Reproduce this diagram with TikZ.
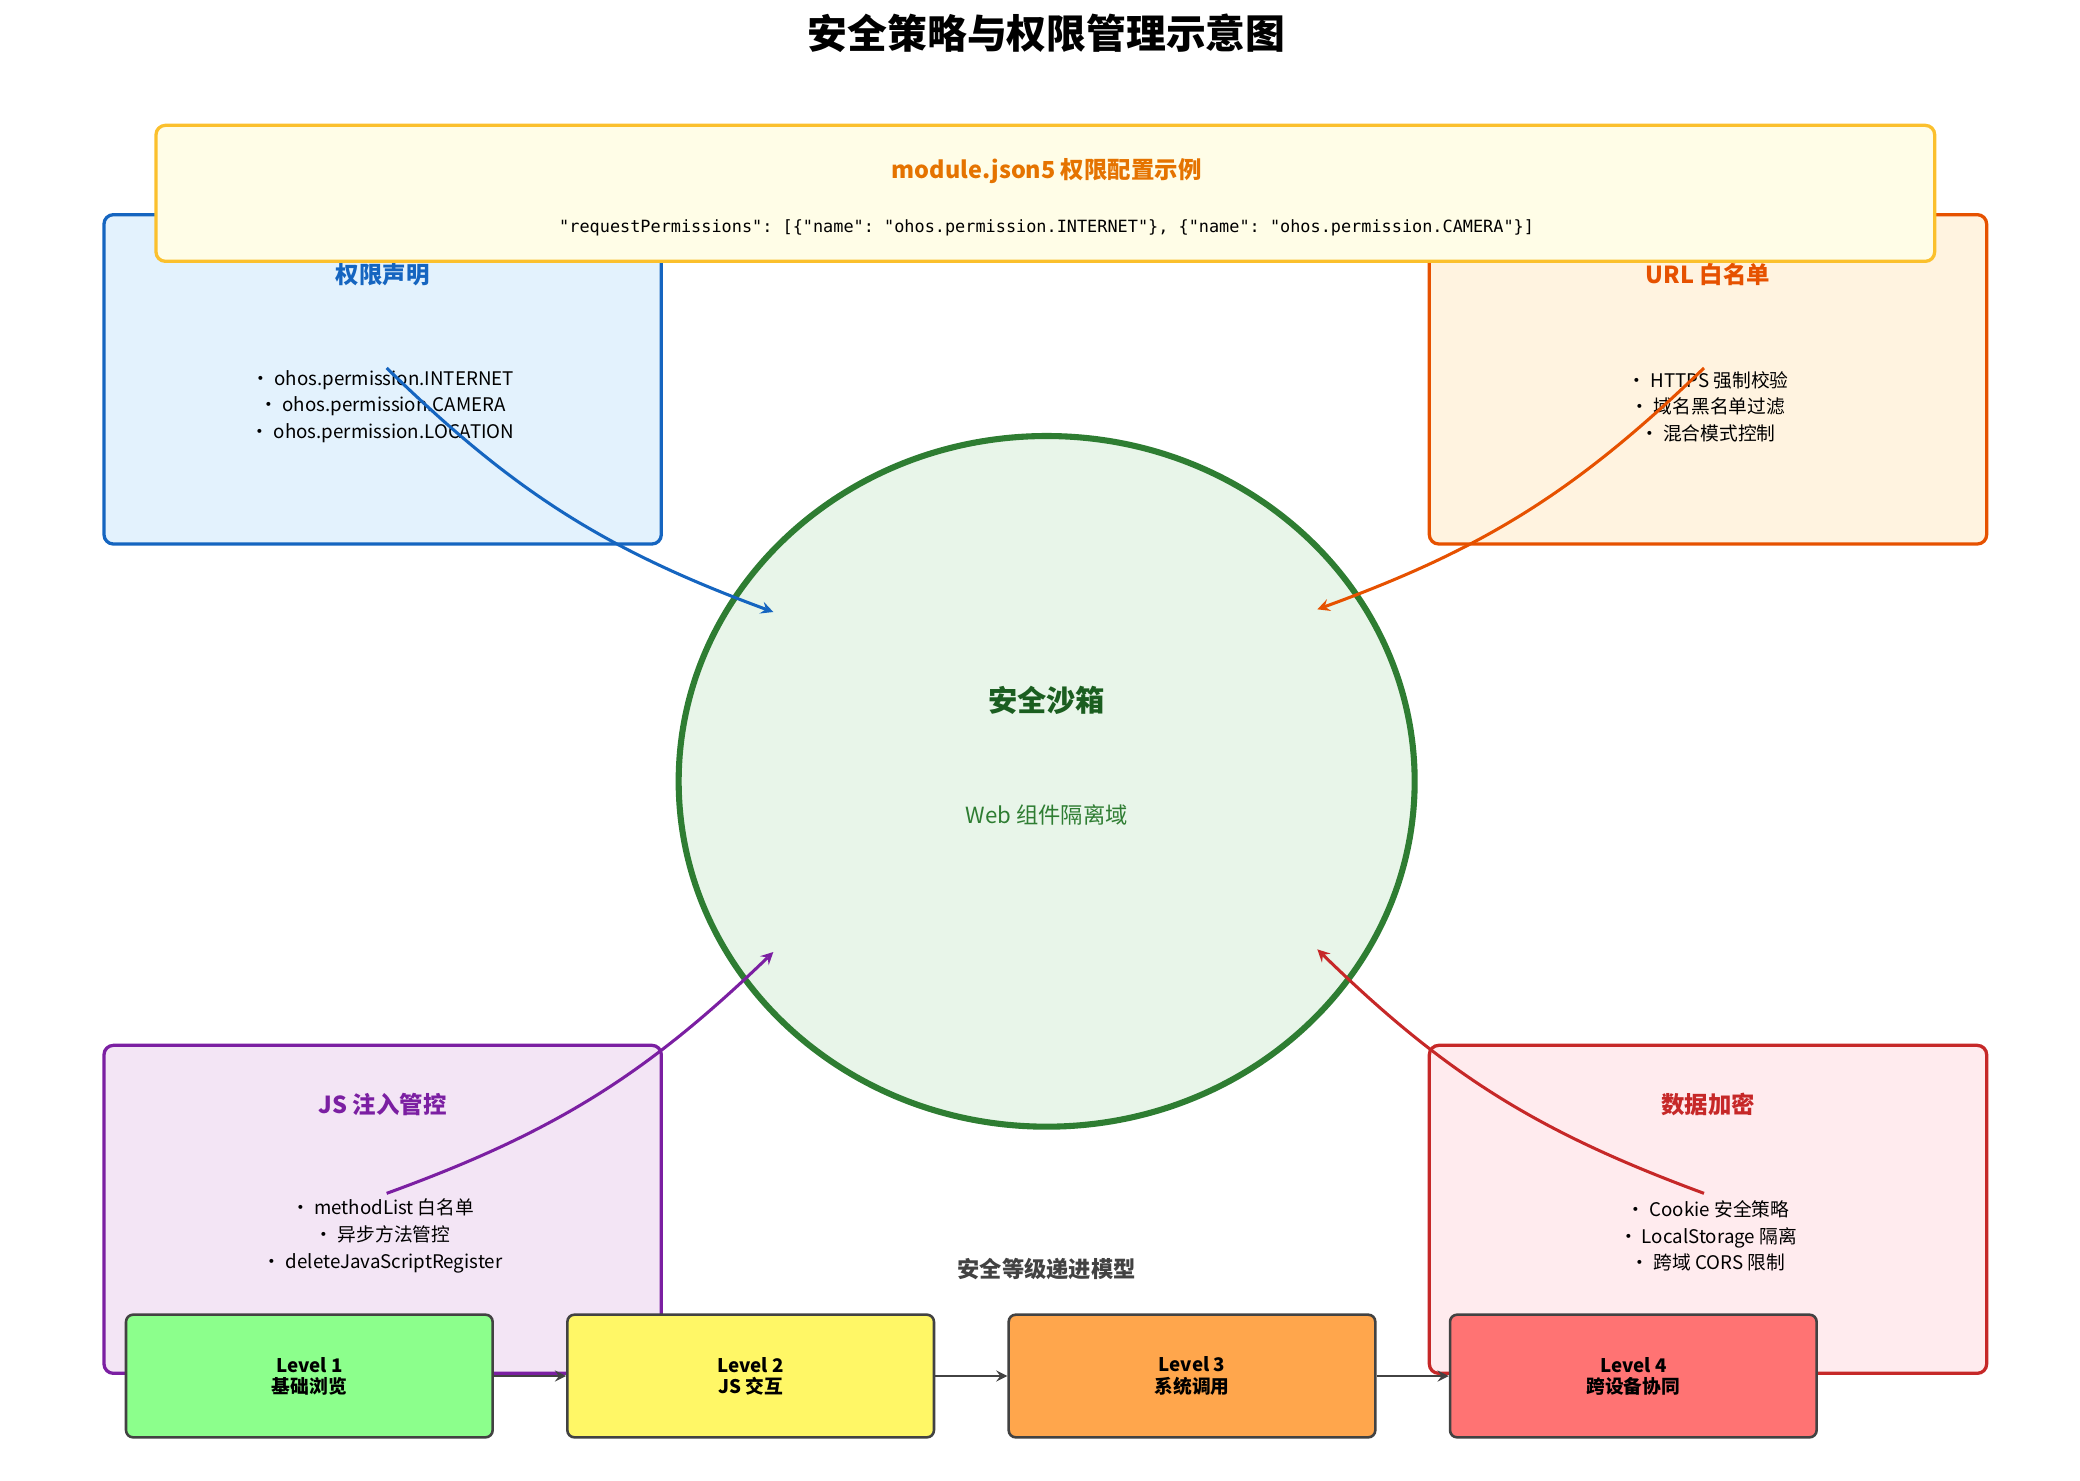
\documentclass[tikz,border=0pt]{standalone}
\usepackage{fontspec}
\setmainfont{Noto Sans CJK SC}
\setmonofont{DejaVu Sans Mono}
\usepackage{xcolor}
\usetikzlibrary{calc}
\definecolor{sb-blue}{HTML}{1565C0}
\definecolor{sb-blue-bg}{HTML}{E3F2FD}
\definecolor{sb-orange}{HTML}{E65100}
\definecolor{sb-orange-bg}{HTML}{FFF3E0}
\definecolor{sb-purple}{HTML}{7B1FA2}
\definecolor{sb-purple-bg}{HTML}{F3E5F5}
\definecolor{sb-red}{HTML}{C62828}
\definecolor{sb-red-bg}{HTML}{FFEBEE}
\definecolor{sb-green}{HTML}{2E7D32}
\definecolor{sb-green-dk}{HTML}{1B5E20}
\definecolor{sb-green-bg}{HTML}{E8F5E9}
\definecolor{sb-yellow}{HTML}{FBC02D}
\definecolor{sb-yellow-bg}{HTML}{FFFDE7}
\definecolor{sb-gray}{HTML}{424242}
\tikzset{
  card/.style={draw=#1, line width=1.4pt, rounded corners=4pt},
  cardtitle/.style={font=\fontsize{10}{12}\selectfont\bfseries, text=#1},
  items/.style={font=\fontsize{8}{11.4}\selectfont, align=center},
  flow/.style={line width=1.3pt, -stealth, #1},
  level/.style={draw=sb-gray, line width=1.1pt, rounded corners=3pt, minimum width=5.5cm, minimum height=1.84cm, font=\fontsize{8}{9}\selectfont\bfseries, align=center}
}

\begin{document}
\begin{tikzpicture}[x=0.02cm, y=-0.02cm]
  \useasboundingbox (0, 0) rectangle (1560, 1110);

  \node[font=\fontsize{17}{20}\selectfont\bfseries] (title) at (785, 25) {安全策略与权限管理示意图};

  % four cards
  \draw[card=sb-blue, fill=sb-blue-bg] (78, 161) rectangle (496, 408);
  \draw[card=sb-orange, fill=sb-orange-bg] (1072, 161) rectangle (1490, 408);
  \draw[card=sb-purple, fill=sb-purple-bg] (78, 784) rectangle (496, 1030);
  \draw[card=sb-red, fill=sb-red-bg] (1072, 784) rectangle (1490, 1030);

  \node[cardtitle=sb-blue] (perm-t) at (287, 206) {权限声明};
  \node[items] (perm-i) at (287, 305) {• ohos.permission.INTERNET\\• ohos.permission.CAMERA\\• ohos.permission.LOCATION};
  \node[cardtitle=sb-orange] (url-t) at (1281, 206) {URL 白名单};
  \node[items] (url-i) at (1281, 305) {• HTTPS 强制校验\\• 域名黑名单过滤\\• 混合模式控制};
  \node[cardtitle=sb-purple] (js-t) at (287, 828) {JS 注入管控};
  \node[items] (js-i) at (287, 927) {• methodList 白名单\\• 异步方法管控\\• deleteJavaScriptRegister};
  \node[cardtitle=sb-red] (data-t) at (1281, 828) {数据加密};
  \node[items] (data-i) at (1281, 927) {• Cookie 安全策略\\• LocalStorage 隔离\\• 跨域 CORS 限制};

  % config example
  \draw[card=sb-yellow, fill=sb-yellow-bg] (117, 94) rectangle (1451, 196);
  \node[cardtitle=orange!90!black] (cfg-t) at (785, 128) {module.json5 权限配置示例};
  \node[font=\fontsize{7.2}{9}\ttfamily] (cfg-c) at (785, 171) {"requestPermissions": [\{"name": "ohos.permission.INTERNET"\}, \{"name": "ohos.permission.CAMERA"\}]};

  % sandbox
  \draw[sb-green, line width=2.6pt, fill=sb-green-bg] (785, 586) ellipse [x radius=276, y radius=259];
  \node[font=\fontsize{12.5}{15}\selectfont\bfseries, text=sb-green-dk] (box-t) at (785, 525) {安全沙箱};
  \node[font=\fontsize{9.5}{12}\selectfont, text=sb-green] (box-s) at (785, 611) {Web 组件隔离域};

  \coordinate (in-nw) at (580, 459);
  \coordinate (in-ne) at (988, 457);
  \coordinate (in-sw) at (580, 714);
  \coordinate (in-se) at (988, 712);
  \draw[flow=sb-blue] (290, 276) to[bend right=12] (in-nw);
  \draw[flow=sb-orange] (1278, 276) to[bend left=12] (in-ne);
  \draw[flow=sb-purple] (290, 895) to[bend right=12] (in-sw);
  \draw[flow=sb-red] (1278, 895) to[bend left=12] (in-se);

  % levels
  \node[font=\fontsize{9.5}{12}\selectfont\bfseries, text=sb-gray] (lv-t) at (785, 952) {安全等级递进模型};
  \node[level, fill=green!50!black!40!white, fill=green!45] (lv1) at (232, 1032) {Level 1\\基础浏览};
  \node[level, fill=yellow!60] (lv2) at (563, 1032) {Level 2\\JS 交互};
  \node[level, fill=orange!70] (lv3) at (894, 1032) {Level 3\\系统调用};
  \node[level, fill=red!55] (lv4) at (1225, 1032) {Level 4\\跨设备协同};
  \foreach \a/\b in {lv1/lv2, lv2/lv3, lv3/lv4}
    \draw[flow=sb-gray, line width=1.1pt] (\a) -- (\b);
\end{tikzpicture}
\end{document}
